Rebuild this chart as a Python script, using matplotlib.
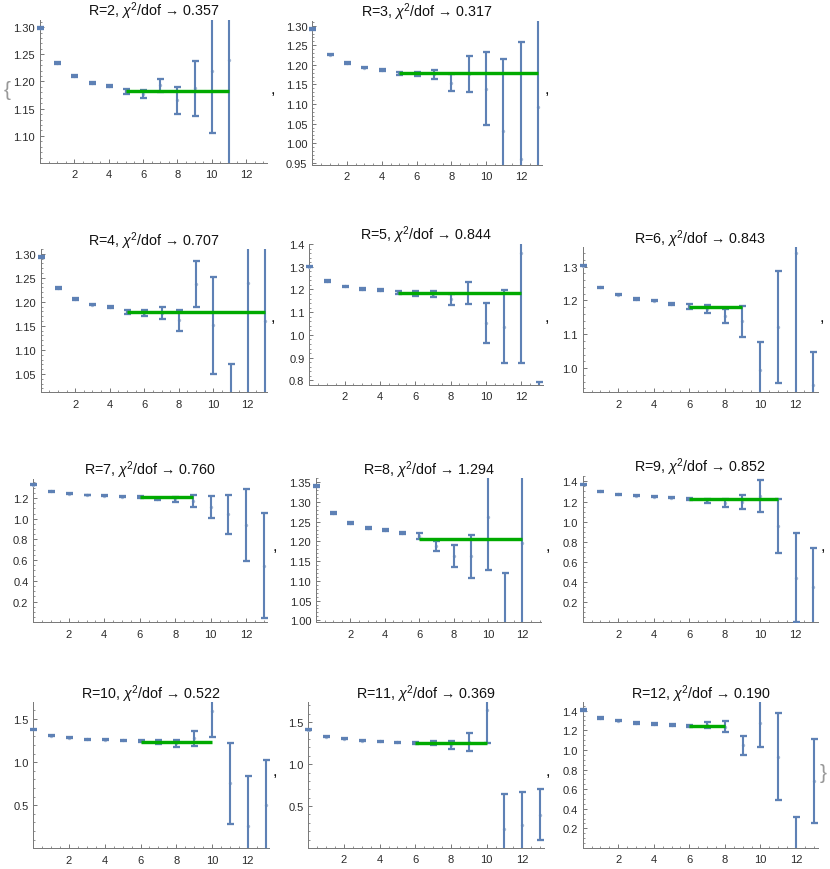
import matplotlib
matplotlib.use('Agg')
import matplotlib.pyplot as plt
from matplotlib.ticker import FixedLocator, MultipleLocator, FormatStrFormatter
import numpy as np

plt.rcParams['font.family'] = ['Liberation Sans', 'DejaVu Sans']
plt.rcParams['mathtext.fontset'] = 'custom'
plt.rcParams['mathtext.rm'] = 'Liberation Sans'
plt.rcParams['mathtext.it'] = 'Liberation Sans:italic'
plt.rcParams['mathtext.bf'] = 'Liberation Sans:bold'

# ---------------- data ----------------
R_values = [2, 3, 4, 5, 6, 7, 8, 9, 10, 11, 12]
chi2_dof = ['0.357', '0.317', '0.707', '0.844', '0.843', '0.760',
            '1.294', '0.852', '0.522', '0.369', '0.190']
fit_level = [1.1816, 1.178, 1.1785, 1.1856, 1.1818, 1.2064,
             1.2064, 1.2236, 1.2393, 1.250, 1.2405]
fit_start = [5, 5, 5, 5, 6, 6, 6, 6, 6, 6, 6]
fit_end = [11, 13, 13, 12, 9, 9, 12, 11, 10, 10, 8]

mean_R2 = [1.2985, 1.2337, 1.2098, 1.1975, 1.1915, 1.1816, 1.177, 1.1926, 1.165, 1.1875, 1.219, 1.24]
err_R2 = [0.0012, 0.0012, 0.0012, 0.0014, 0.0016, 0.005, 0.007, 0.0123, 0.025, 0.051, 0.114, 0.25]

mean_R3 = [1.2915, 1.2259, 1.2046, 1.1927, 1.1867, 1.1782, 1.1765, 1.1756, 1.154, 1.1756, 1.139, 1.0317, 0.9593, 1.0913]
err_R3 = [0.0015, 0.0015, 0.0015, 0.0015, 0.002, 0.003, 0.006, 0.012, 0.022, 0.046, 0.093, 0.183, 0.30, 0.30]

mean_R4 = [1.293, 1.2285, 1.2063, 1.1944, 1.1889, 1.1785, 1.177, 1.1767, 1.1615, 1.2368, 1.1514, 0.95, 1.239, 1.16]
err_R4 = [0.0015, 0.0015, 0.0015, 0.0015, 0.002, 0.004, 0.007, 0.012, 0.0225, 0.048, 0.101, 0.12, 0.30, 0.40]

mean_R5 = [1.300, 1.237, 1.2135, 1.2018, 1.197, 1.187, 1.182, 1.180, 1.1565, 1.186, 1.051, 1.037, 1.3586, 0.60]
err_R5 = [0.003, 0.003, 0.003, 0.003, 0.004, 0.005, 0.010, 0.015, 0.0235, 0.048, 0.088, 0.162, 0.484, 0.195]

mean_R6 = [1.303, 1.2389, 1.2172, 1.2044, 1.1995, 1.1897, 1.1828, 1.1744, 1.1542, 1.1389, 0.9946, 1.1217, 1.3394, 0.95]
err_R6 = [0.002, 0.002, 0.002, 0.002, 0.002, 0.004, 0.0074, 0.0123, 0.0207, 0.0458, 0.0818, 0.1665, 0.45, 0.097]

mean_R7 = [1.3286, 1.2643, 1.2418, 1.2289, 1.2225, 1.2129, 1.2064, 1.190, 1.186, 1.1726, 1.1116, 1.0408, 0.938, 0.5456]
err_R7 = [0.006, 0.004, 0.004, 0.004, 0.004, 0.005, 0.010, 0.012, 0.027, 0.056, 0.104, 0.188, 0.349, 0.5065]

mean_R8 = [1.3399, 1.2715, 1.247, 1.2343, 1.2284, 1.2208, 1.2136, 1.1885, 1.1625, 1.162, 1.2613, 0.95, 1.1954]
err_R8 = [0.002, 0.002, 0.002, 0.002, 0.002, 0.003, 0.007, 0.0135, 0.028, 0.055, 0.135, 0.17, 0.25]

mean_R9 = [1.3734, 1.300, 1.2735, 1.2569, 1.2469, 1.2403, 1.230, 1.207, 1.1866, 1.1937, 1.2519, 0.954, 0.445, 0.35]
err_R9 = [0.006, 0.005, 0.005, 0.005, 0.005, 0.006, 0.010, 0.017, 0.037, 0.070, 0.160, 0.270, 0.446, 0.39]

mean_R10 = [1.3833, 1.3093, 1.2821, 1.2665, 1.2588, 1.2549, 1.2432, 1.237, 1.220, 1.276, 1.597, 0.757, 0.2549, 0.50]
err_R10 = [0.006, 0.006, 0.006, 0.006, 0.006, 0.007, 0.010, 0.021, 0.039, 0.0875, 0.30, 0.471, 0.5836, 0.525]

mean_R11 = [1.4087, 1.3294, 1.3016, 1.2817, 1.2738, 1.2619, 1.250, 1.256, 1.230, 1.266, 1.6468, 0.222, 0.2698, 0.399]
err_R11 = [0.007, 0.006, 0.006, 0.006, 0.006, 0.007, 0.010, 0.026, 0.048, 0.103, 0.397, 0.425, 0.397, 0.3075]

mean_R12 = [1.4068, 1.3252, 1.298, 1.2741, 1.2639, 1.2537, 1.240, 1.252, 1.235, 1.046, 1.271, 0.932, -0.20, 0.681]
err_R12 = [0.007, 0.006, 0.006, 0.006, 0.006, 0.007, 0.010, 0.029, 0.056, 0.0985, 0.239, 0.444, 0.518, 0.430]

means = [mean_R2, mean_R3, mean_R4, mean_R5, mean_R6, mean_R7, mean_R8, mean_R9, mean_R10, mean_R11, mean_R12]
errs = [err_R2, err_R3, err_R4, err_R5, err_R6, err_R7, err_R8, err_R9, err_R10, err_R11, err_R12]

# y ranges and tick spacing
y_min = [1.05, 0.945, 1.0118, 0.781, 0.9286, 0.0, 0.995, 0.0, 0.0, 0.0, 0.0]
y_max = [1.313, 1.3128, 1.310, 1.40, 1.357, 1.383, 1.36, 1.457, 1.695, 1.738, 1.485]
y_step = [0.05, 0.05, 0.05, 0.1, 0.1, 0.2, 0.05, 0.2, 0.5, 0.5, 0.2]
y_minor = [0.01, 0.01, 0.01, 0.02, 0.02, 0.05, 0.01, 0.05, 0.1, 0.1, 0.05]
x_tick_labels = [2, 4, 6, 8, 10, 12]

# ---------------- layout (pixels) ----------------
W, H = 830, 870
# (x pixel of x=0, pixels per x unit, x max, top pixel, bottom pixel)
layout = [
    (40.0, 17.17, 13.2, 21.0, 164.0),
    (312.3, 17.38, 13.2, 21.7, 165.7),
    (40.7, 17.26, 13.1, 250.0, 393.3),
    (309.3, 17.67, 13.2, 245.0, 385.7),
    (582.7, 17.74, 13.25, 248.3, 393.3),
    (33.3, 17.74, 13.15, 480.0, 623.3),
    (316.0, 17.20, 13.1, 479.3, 623.3),
    (582.7, 17.74, 13.25, 476.7, 623.3),
    (33.3, 17.87, 13.2, 703.3, 849.3),
    (308.3, 17.83, 13.2, 703.3, 849.0),
    (582.7, 17.77, 13.25, 703.3, 849.0),
]
commas = [(273, 95), (547, 95), (273, 323), (547, 323), (822, 323),
          (275, 552), (548, 552), (823, 552), (275, 777), (548, 777)]

blue = '#5E81B5'
center_col = '#a7bad6'
green = '#00AA00'
axis_gray = '#7a7a7a'
label_col = '#2a2a2a'
PX = 72.0 / 100.0  # points per pixel

fig = plt.figure(figsize=(W / 100, H / 100), dpi=100)

xpad = 0.45
for i, R in enumerate(R_values):
    ax0, unit, xmax, top, bot = layout[i]
    left_px = ax0 - xpad * unit
    width_px = (xmax + xpad) * unit
    ax = fig.add_axes([left_px / W, 1 - bot / H, width_px / W, (bot - top) / H])
    ax.patch.set_visible(False)
    ax.set_xlim(-xpad, xmax)
    ax.set_ylim(y_min[i], y_max[i])
    for s in ('top', 'right'):
        ax.spines[s].set_visible(False)
    ax.spines['left'].set_position(('data', 0))
    ax.spines['bottom'].set_bounds(0, xmax)
    for s in ('left', 'bottom'):
        ax.spines[s].set_color(axis_gray)
        ax.spines[s].set_linewidth(1.0 * PX)

    x = np.arange(len(means[i]))
    ax.plot(x, means[i], 'o', ms=3.4 * PX, color=center_col, mew=0, zorder=2.9)
    ax.errorbar(x, means[i], yerr=errs[i], fmt='none',
                ecolor=blue, elinewidth=2.1 * PX,
                capsize=3.5 * PX, capthick=2.3 * PX, zorder=3)
    ax.hlines(fit_level[i], fit_start[i], fit_end[i], color=green,
              lw=3.4 * PX, zorder=4)

    # ticks
    ax.xaxis.set_major_locator(FixedLocator(x_tick_labels))
    ax.xaxis.set_minor_locator(MultipleLocator(0.5))
    st = y_step[i]
    first = np.ceil((y_min[i] + 1e-6) / st) * st
    if abs(first - y_min[i]) < 1e-6:
        first += st
    yt = np.arange(first, y_max[i] + 1e-9, st)
    ax.yaxis.set_major_locator(FixedLocator(yt))
    ax.yaxis.set_minor_locator(MultipleLocator(y_minor[i]))
    ax.yaxis.set_major_formatter(FormatStrFormatter('%.2f' if st < 0.1 else '%.1f'))
    ax.tick_params(which='major', direction='in', length=4.0 * PX, width=1.0 * PX,
                   color=axis_gray, labelsize=8, labelcolor=label_col)
    ax.tick_params(which='minor', direction='in', length=2.2 * PX, width=0.8 * PX,
                   color=axis_gray)
    ax.tick_params(axis='y', which='major', pad=3.5)
    ax.tick_params(axis='x', which='major', pad=4.5)

    cx = ax0 + xmax * unit / 2.0
    fig.text(cx / W, 1 - (top - 4.5) / H,
             'R=%d, $\\chi^2$/dof \u2192 %s' % (R, chi2_dof[i]),
             ha='center', va='baseline', fontsize=10.3, color='#111111')

for (cxp, cyp) in commas:
    fig.text(cxp / W, 1 - (cyp - 1) / H, ',', ha='center', va='baseline',
             fontsize=12, color='#111111')

fig.text(7 / W, 1 - 90 / H, '{', ha='center', va='center', fontsize=15,
         color='#999999')
fig.text(823 / W, 1 - 774 / H, '}', ha='center', va='center', fontsize=15,
         color='#999999')

fig.savefig('out.png', dpi=100)
